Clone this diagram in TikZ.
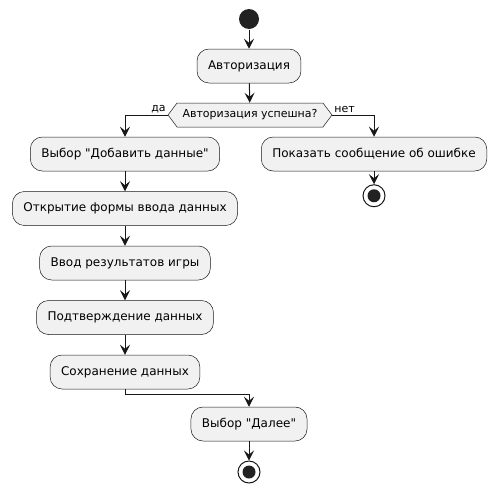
\documentclass[tikz,border=0pt]{standalone}
\usepackage{fontspec}
\setmainfont{DejaVu Sans}
\usetikzlibrary{positioning}
\usetikzlibrary{arrows.meta}
\usetikzlibrary{shapes.symbols}
\definecolor{actfill}{HTML}{F1F1F1}
\definecolor{actline}{HTML}{181818}
\definecolor{dotfill}{HTML}{222222}

\begin{document}
\begin{tikzpicture}[x=1pt,y=-1pt,>={Stealth[length=10pt,width=10pt,inset=4pt]},
	node distance=20pt,line width=1pt,draw=actline,
	act node/.style={rectangle,rounded corners=12pt,draw=actline,line width=0.5pt,
		fill=actfill,minimum height=34pt,inner xsep=11pt,
		font=\fontsize{12}{14}\selectfont},
	if node/.style={signal,signal to=west and east,signal pointer angle=106,
		draw=actline,line width=0.5pt,fill=actfill,minimum height=24pt,
		minimum width=164pt,inner sep=1pt,font=\fontsize{11}{13}\selectfont},
	start node/.style={circle,fill=dotfill,minimum size=20pt,inner sep=0pt},
	stop node/.style={circle,draw=actline,line width=1pt,fill=white,minimum size=22pt,
		inner sep=0pt,path picture={\fill[dotfill] (path picture bounding box.center) circle (6.5pt);}}]

	\useasboundingbox (0,0) rectangle (500,493);

	\node[start node] (start) at (249,19) {};
	\node[act node] (auth) at (249,66) {Авторизация};
	\node[if node] (check) at (250,115) {Авторизация успешна?};

	\node[act node] (add) at (125,154) {Выбор \textquotedbl Добавить данные\textquotedbl};
	\node[act node] (form) [below=of add] {Открытие формы ввода данных};
	\node[act node] (input) [below=of form] {Ввод результатов игры};
	\node[act node] (confirm) [below=of input] {Подтверждение данных};
	\node[act node] (save) [below=of confirm] {Сохранение данных};
	\node[act node] (next) at (249,424) {Выбор \textquotedbl Далее\textquotedbl};
	\node[stop node] (end) at (249,472) {};

	\node[act node] (error) at (374,154) {Показать сообщение об ошибке};
	\node[stop node] (errend) [below=13pt of error] {};

	\draw[->] (start) -- (auth);
	\draw[->] (auth) -- (check);
	\draw[->] (check.west) node[above left,inner sep=1.5pt,font=\fontsize{11}{13}\selectfont] {да} -| (add.north);
	\draw[->] (check.east) node[above right,inner sep=1.5pt,font=\fontsize{11}{13}\selectfont] {нет} -| (error.north);
	\draw[->] (add) -- (form);
	\draw[->] (form) -- (input);
	\draw[->] (input) -- (confirm);
	\draw[->] (confirm) -- (save);
	\draw[->] (save.south) -- ++(0,5) -| (next.north);
	\draw[->] (next) -- (end);
	\draw[->] (error) -- (errend);
\end{tikzpicture}
\end{document}
